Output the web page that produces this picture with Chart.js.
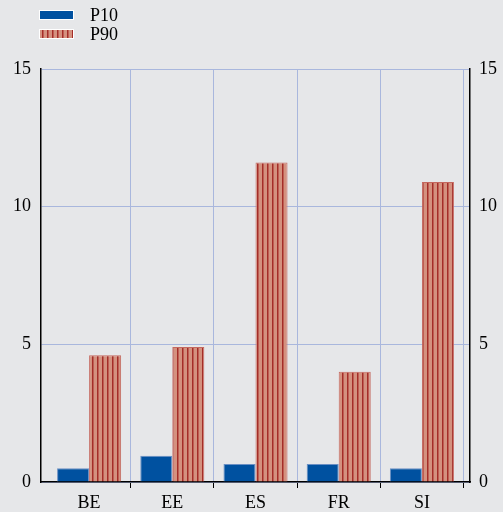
<!DOCTYPE html>
<html>
<head>
<meta charset="utf-8">
<script src="https://cdn.jsdelivr.net/npm/chart.js@4"></script>
<style>
  html, body { margin: 0; padding: 0; background: #e6e7e9; }
  #wrap { width: 503px; height: 512px; }
</style>
</head>
<body>
<div id="wrap"><canvas id="c" width="503" height="512"></canvas></div>
<script>
// data
const categories = ["BE", "EE", "ES", "FR", "SI"];
const p10 = [0.5, 0.95, 0.65, 0.65, 0.5];
const p90 = [4.6, 4.9, 11.6, 4.0, 10.9];
const yTicks = [0, 5, 10, 15];

const FONT = "'Liberation Serif', 'DejaVu Serif', serif";
const GRID = "#a9b7dd";
const X_INSET = 6.5; // category axis sits a bit inside the plot frame

// striped fill for P90
function stripes() {
  const pc = document.createElement('canvas');
  pc.width = 5; pc.height = 4;
  const g = pc.getContext('2d');
  g.fillStyle = "#d4917f";
  g.fillRect(0, 0, 5, 4);
  g.fillStyle = "#a52d28";
  g.fillRect(2, 0, 1.5, 4);
  return g.createPattern(pc, 'repeat');
}

// legend stacked top-left
const stackLegend = {
  id: 'stackLegend',
  afterDraw(chart) {
    const ctx = chart.ctx;
    ctx.save();
    chart.data.datasets.forEach((ds, i) => {
      const y = 15 + i * 19;
      ctx.fillStyle = ds.backgroundColor;
      ctx.fillRect(40, y - 4, 33, 8);
      ctx.strokeStyle = "#ffffff";
      ctx.lineWidth = 1;
      ctx.strokeRect(39.5, y - 4.5, 34, 9);
      ctx.fillStyle = "#000";
      ctx.font = "18px " + FONT;
      ctx.textBaseline = "middle";
      ctx.fillText(ds.label, 90, y + 1);
    });
    ctx.restore();
  }
};

// shrink the category range inside the frame
const insetX = {
  id: 'insetX',
  afterLayout(chart) {
    const s = chart.scales.x;
    s._startPixel += X_INSET;
    s._endPixel -= X_INSET;
    s._length = s._endPixel - s._startPixel;
  }
};

const isEdge = c => c.index === 0 || c.index === categories.length;
const CLEAR = 'rgba(0,0,0,0)';

const ctx = document.getElementById('c').getContext('2d');
new Chart(ctx, {
  type: 'bar',
  data: {
    labels: categories,
    datasets: [
      { label: 'P10', data: p10, backgroundColor: "#0051a0", borderColor: "#6a8fc4", borderWidth: 1 },
      { label: 'P90', data: p90, backgroundColor: stripes(), borderColor: "#c4685f", borderWidth: 1 }
    ]
  },
  options: {
    responsive: false,
    animation: false,
    layout: { padding: { top: 69, left: 0, right: 0, bottom: 0 } },
    datasets: { bar: { categoryPercentage: 0.77, barPercentage: 1 } },
    plugins: { legend: { display: false }, tooltip: { enabled: false } },
    scales: {
      x: {
        afterFit: a => { a.height = 30; },
        grid: {
          color: c => isEdge(c) ? CLEAR : GRID,
          tickColor: c => isEdge(c) ? CLEAR : "#000",
          tickLength: 6, offset: true
        },
        border: { color: "#000", width: 1.5 },
        ticks: { color: "#000", font: { family: FONT, size: 18 }, padding: 4 }
      },
      y: {
        min: 0, max: 15,
        afterFit: a => { a.width = 41; },
        afterBuildTicks: a => { a.ticks = yTicks.map(v => ({ value: v })); },
        grid: { color: GRID, drawTicks: false },
        border: { color: "#000", width: 1.5 },
        ticks: { color: "#000", font: { family: FONT, size: 18 }, padding: 10 }
      },
      y2: {
        position: 'right',
        min: 0, max: 15,
        afterFit: a => { a.width = 33; },
        afterBuildTicks: a => { a.ticks = yTicks.map(v => ({ value: v })); },
        grid: { display: false, drawTicks: false },
        border: { color: "#000", width: 1.5 },
        ticks: { color: "#000", font: { family: FONT, size: 18 }, padding: 9 }
      }
    }
  },
  plugins: [stackLegend, insetX]
});
</script>
</body>
</html>
